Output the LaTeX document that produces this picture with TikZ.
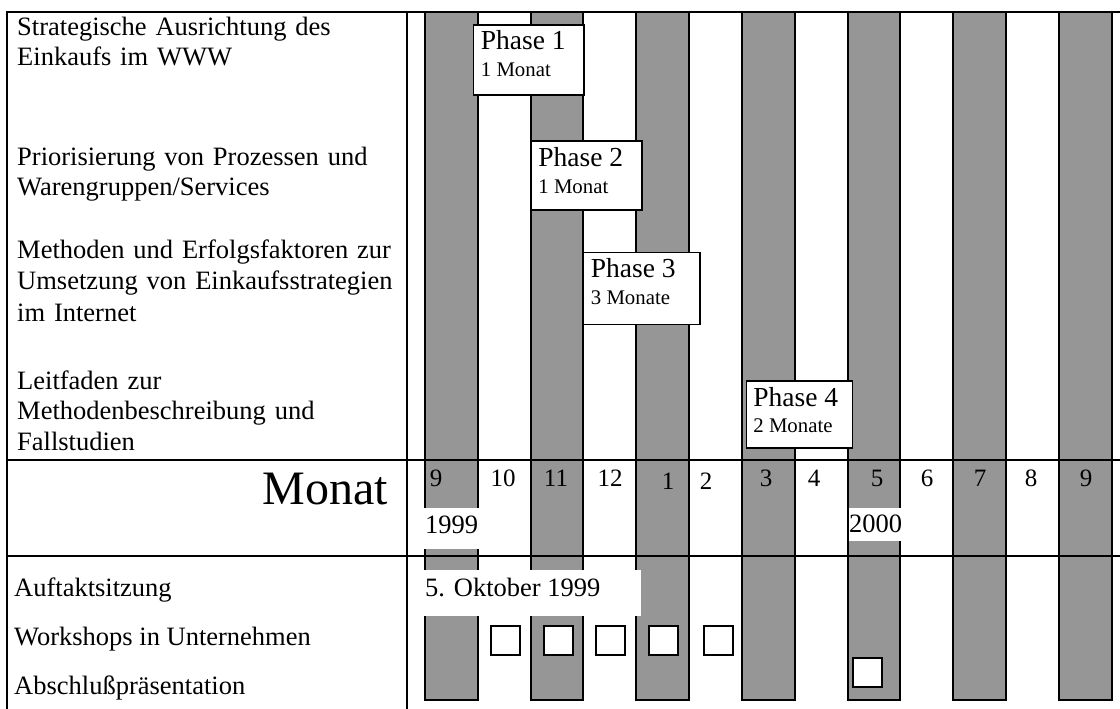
\documentclass[tikz,border=0pt]{standalone}
\usepackage{fontspec}
\setmainfont{Liberation Serif}
\usetikzlibrary{calc}
\definecolor{colgray}{RGB}{150,150,150}
\begin{document}
\begin{tikzpicture}[x=1pt,y=-1pt,
  col/.style={fill=colgray, draw=black, line width=1.7pt},
  rule/.style={draw=black, line width=1.7pt},
  lab/.style={anchor=base west, inner sep=0pt, text width=390pt, align=left},
  one/.style={anchor=base west, inner sep=0pt, font=\fontsize{26.5}{30}\selectfont},
  mon/.style={anchor=base, inner sep=0pt, font=\fontsize{25}{25}\selectfont},
  phasebox/.style={draw=black, fill=white, line width=1.7pt, anchor=north west, inner sep=0pt},
  ptitle/.style={anchor=base west, inner sep=0pt, font=\fontsize{27.5}{28}\selectfont},
  psub/.style={anchor=base west, inner sep=0pt, font=\fontsize{20.8}{21}\selectfont},
  wbox/.style={draw=black, fill=white, line width=1.7pt, anchor=north west, inner sep=0pt, minimum width=29pt, minimum height=29pt}]
\fill[white] (0,0) rectangle (1120,709);
\useasboundingbox (0,0) rectangle (1120,709);
% grey month columns
\foreach \xa/\xb in {425/478, 531/583, 636/689, 742/795, 848/900, 953/1006, 1059/1112}
  \draw[col] (\xa,12) rectangle (\xb,700);
% table rules
\draw[rule] (7,709) -- (7,12) -- (1120,12);
\draw[rule] (407,12) -- (407,709);
\draw[rule] (7,460) -- (1120,460);
\draw[rule] (7,556) -- (1120,556);
% white label backgrounds
\fill[white] (423,508) rectangle (479,549);
\fill[white] (849,508) rectangle (902,541);
\fill[white] (424,570) rectangle (641,616);
% left labels
\node[lab, font=\fontsize{26.5}{30}\selectfont] (t1) at (17,36) {Strategische Ausrichtung des\\Einkaufs im WWW};
\node[lab, font=\fontsize{26.5}{30}\selectfont] (t2) at (17,165) {Priorisierung von Prozessen und\\Warengruppen/Services};
\node[lab, font=\fontsize{26.5}{31.5}\selectfont] (t3) at (17,258) {Methoden und Erfolgsfaktoren zur\\Umsetzung von Einkaufsstrategien\\im Internet};
\node[lab, font=\fontsize{26.5}{30.5}\selectfont] (t4) at (17,389) {Leitfaden zur\\Methodenbeschreibung und\\Fallstudien};
\node[anchor=base east, inner sep=0pt, font=\fontsize{48}{48}\selectfont] (monat) at (388,504) {Monat};
\node[one] (b1) at (14,596) {Auftaktsitzung};
\node[one] (b2) at (14,645) {Workshops in Unternehmen};
\node[one] (b3) at (14,694) {Abschlußpräsentation};
% month numbers
\node[mon] (m1) at (436,486) {9};
\node[mon] (m2) at (503,486) {10};
\node[mon] (m3) at (556,486) {11};
\node[mon] (m4) at (610,486) {12};
\node[mon] (m5) at (668,489) {1};
\node[mon] (m6) at (706,489) {2};
\node[mon] (m7) at (766,486) {3};
\node[mon] (m8) at (814,486) {4};
\node[mon] (m9) at (877,486) {5};
\node[mon] (m10) at (927,486) {6};
\node[mon] (m11) at (980,486) {7};
\node[mon] (m12) at (1031,486) {8};
\node[mon] (m13) at (1086,486) {9};
\node[one] (y1) at (425,533) {1999};
\node[one] (y2) at (849,532) {2000};
\node[one] (kick) at (425,596) {5. Oktober 1999};
% phases
\node[phasebox, minimum width=110.6pt, minimum height=70pt] (p1) at (472.7,24) {};
\node[ptitle] (p1t) at ($(p1.north west)+(8,26)$) {Phase 1};
\node[psub] (p1s) at ($(p1.north west)+(8,53)$) {1 Monat};
\node[phasebox, minimum width=110.3pt, minimum height=69pt] (p2) at (530.7,140) {};
\node[ptitle] (p2t) at ($(p2.north west)+(7.5,26)$) {Phase 2};
\node[psub] (p2s) at ($(p2.north west)+(7.5,53)$) {1 Monat};
\node[phasebox, minimum width=116.3pt, minimum height=72pt] (p3) at (582.7,251.7) {};
\node[ptitle] (p3t) at ($(p3.north west)+(8,26)$) {Phase 3};
\node[psub] (p3s) at ($(p3.north west)+(8,53)$) {3 Monate};
\node[phasebox, minimum width=106pt, minimum height=67pt] (p4) at (745.7,380) {};
\node[ptitle] (p4t) at ($(p4.north west)+(7.5,26)$) {Phase 4};
\node[psub] (p4s) at ($(p4.north west)+(7.5,52)$) {2 Monate};
% workshop and final presentation markers
\node[wbox] (w1) at (490,625) {};
\node[wbox] (w2) at (543,625) {};
\node[wbox] (w3) at (595,625) {};
\node[wbox] (w4) at (648,625) {};
\node[wbox] (w5) at (703,625) {};
\node[wbox] (a1) at (852,657) {};
\end{tikzpicture}
\end{document}
